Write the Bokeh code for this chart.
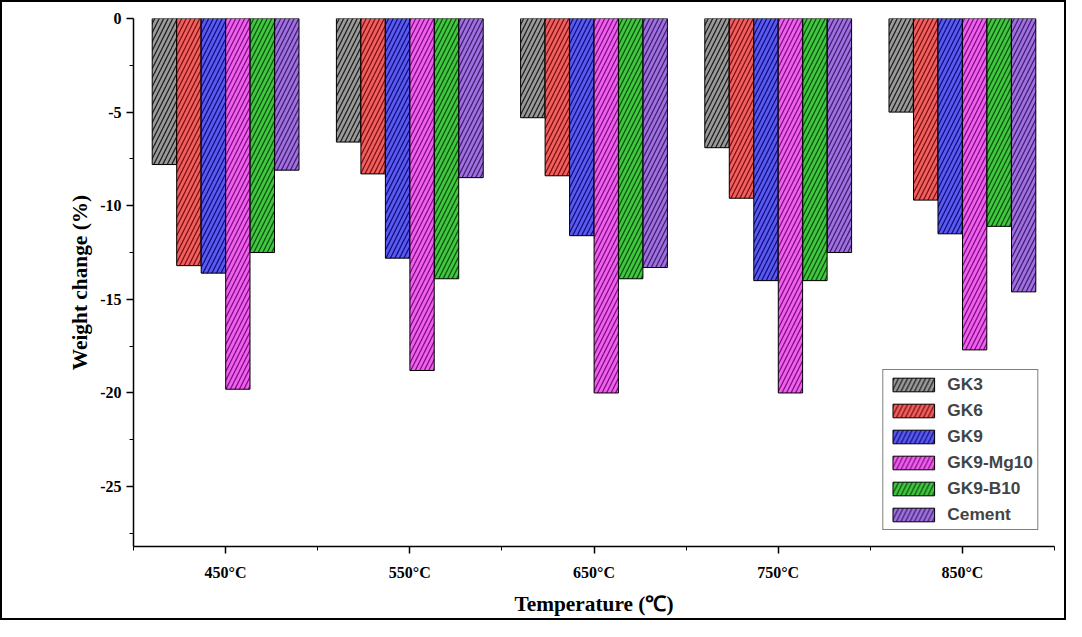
from bokeh.plotting import figure
from bokeh.models import FixedTicker, Legend, LegendItem
from bokeh.embed import file_html
from bokeh.resources import INLINE

temps = ["450°C", "550°C", "650°C", "750°C", "850°C"]
series = ["GK3", "GK6", "GK9", "GK9-Mg10", "GK9-B10", "Cement"]
GK3 = [-7.8, -6.6, -5.3, -6.9, -5.0]
GK6 = [-13.2, -8.3, -8.4, -9.6, -9.7]
GK9 = [-13.6, -12.8, -11.6, -14.0, -11.5]
GK9_Mg10 = [-19.8, -18.8, -20.0, -20.0, -17.7]
GK9_B10 = [-12.5, -13.9, -13.9, -14.0, -11.1]
Cement = [-8.1, -8.5, -13.3, -12.5, -14.6]
values = [GK3, GK6, GK9, GK9_Mg10, GK9_B10, Cement]
yticks = [0, -5, -10, -15, -20, -25]
fills = ["#9a9a9a", "#f06060", "#5a5af0", "#f060f0", "#40c840", "#a070e0"]
hatches = ["#202020", "#801010", "#101080", "#801080", "#105010", "#402070"]

p = figure(width=1066, height=620, x_range=(0.5, 5.5), y_range=(-28.2, 0),
           output_backend="svg", toolbar_location=None,
           min_border_left=131, min_border_top=16, min_border_bottom=76, min_border_right=14)
p.styles = {"border": "2px solid black"}
p.outline_line_color = None
p.grid.visible = False
p.background_fill_color = "white"

xs = [1, 2, 3, 4, 5]
w = 0.132
items = []
for i, (name, vals) in enumerate(zip(series, values)):
    off = (i - 2.5) * 0.133
    r = p.vbar(x=[x + off for x in xs], top=[0]*5, bottom=vals, width=w,
               fill_color=fills[i], line_color="black", line_width=1,
               hatch_pattern="/", hatch_color=hatches[i], hatch_scale=9, hatch_weight=1.3)
    items.append(LegendItem(label=name, renderers=[r]))

leg = Legend(items=items, location="bottom_right", label_text_font="Liberation Sans",
             label_text_font_style="bold", label_text_font_size="13pt",
             border_line_color="black", border_line_width=1, glyph_width=52, glyph_height=17,
             spacing=5, padding=4, margin=16, label_standoff=8, label_height=17)
p.add_layout(leg)

p.xaxis.ticker = FixedTicker(ticks=xs, minor_ticks=[0.5, 1.5, 2.5, 3.5, 4.5, 5.5])
p.xaxis.major_label_overrides = {x: t for x, t in zip(xs, temps)}
p.yaxis.ticker = FixedTicker(ticks=yticks,
                             minor_ticks=[-2.5, -7.5, -12.5, -17.5, -22.5, -27.5])
p.yaxis.major_label_overrides = {t: str(t) for t in yticks}
for ax in (p.xaxis, p.yaxis):
    ax.major_label_text_font = "Liberation Serif"
    ax.major_label_text_font_style = "bold"
    ax.major_label_text_font_size = "12pt"
    ax.axis_label_text_font = "Liberation Serif"
    ax.axis_label_text_font_style = "bold"
    ax.axis_label_text_font_size = "16pt"
    ax.axis_label_text_color = "black"
    ax.major_label_text_color = "black"
    ax.axis_line_width = 1.5
    ax.major_tick_line_width = 1.5
    ax.major_tick_out = 7
    ax.major_tick_in = 0
    ax.minor_tick_out = 4
    ax.minor_tick_in = 0
p.xaxis.axis_label = "Temperature (℃)"
p.yaxis.axis_label = "Weight change (%)"
p.xaxis.major_label_standoff = 10
p.xaxis.axis_label_standoff = 8

open("out.html", "w").write(file_html(p, INLINE))
